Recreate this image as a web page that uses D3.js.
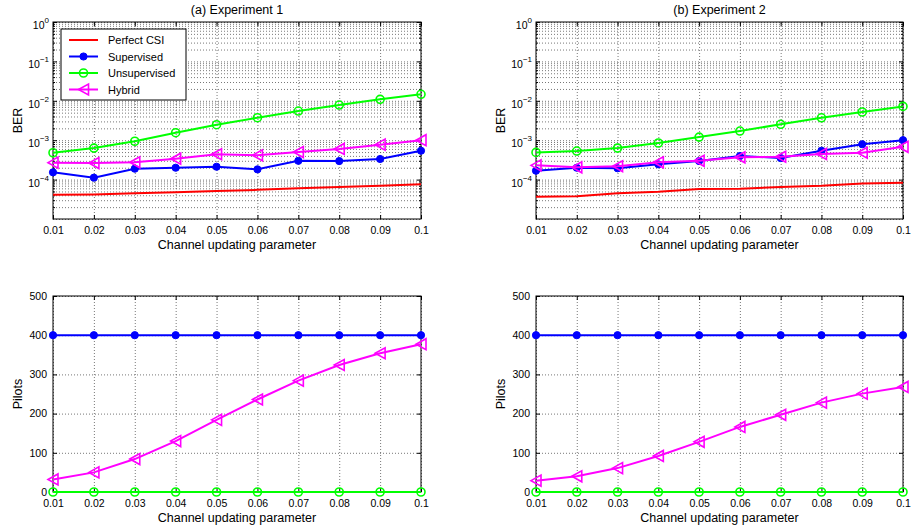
<!DOCTYPE html>
<html>
<head>
<meta charset="utf-8">
<script src="https://cdn.jsdelivr.net/npm/d3@7"></script>
<style>
  body { margin: 0; background: #fff; }
  text { font-family: "Liberation Sans", Arial, sans-serif; fill: #000; }
</style>
</head>
<body>
<svg id="drawing_region"></svg>
<script>
var width = 912;
var height = 532;

// data
const xValues = [0.01, 0.02, 0.03, 0.04, 0.05, 0.06, 0.07, 0.08, 0.09, 0.1];
const xTickLabels = ['0.01', '0.02', '0.03', '0.04', '0.05', '0.06', '0.07', '0.08', '0.09', '0.1'];
const seriesNames = ['Perfect CSI', 'Supervised', 'Unsupervised', 'Hybrid'];
const berTickExponents = [0, -1, -2, -3, -4];
const pilotTicks = [0, 100, 200, 300, 400, 500];
const panelTitles = ['(a) Experiment 1', '(b) Experiment 2'];

const berExp1Perfect = [4.1e-5, 4.2e-5, 4.5e-5, 4.8e-5, 5.1e-5, 5.5e-5, 6.0e-5, 6.5e-5, 7.0e-5, 7.6e-5];
const berExp1Supervised = [1.53e-4, 1.12e-4, 1.89e-4, 2.0e-4, 2.12e-4, 1.82e-4, 3.0e-4, 2.96e-4, 3.33e-4, 5.4e-4];
const berExp1Unsupervised = [4.8e-4, 6.3e-4, 9.4e-4, 1.55e-3, 2.47e-3, 3.72e-3, 5.5e-3, 7.8e-3, 1.09e-2, 1.46e-2];
const berExp1Hybrid = [2.69e-4, 2.63e-4, 2.75e-4, 3.39e-4, 4.4e-4, 4.14e-4, 5.0e-4, 6.0e-4, 7.7e-4, 1.0e-3];

const berExp2Perfect = [3.68e-5, 3.77e-5, 4.5e-5, 4.9e-5, 5.8e-5, 5.9e-5, 6.5e-5, 7.0e-5, 8.0e-5, 8.3e-5];
const berExp2Supervised = [1.68e-4, 2.0e-4, 1.94e-4, 2.44e-4, 2.96e-4, 3.97e-4, 3.53e-4, 5.4e-4, 7.9e-4, 1.0e-3];
const berExp2Unsupervised = [4.9e-4, 5.3e-4, 6.3e-4, 8.5e-4, 1.2e-3, 1.71e-3, 2.53e-3, 3.7e-3, 5.2e-3, 7.2e-3];
const berExp2Hybrid = [2.3e-4, 2.05e-4, 2.18e-4, 2.75e-4, 3.0e-4, 3.68e-4, 3.8e-4, 4.47e-4, 4.8e-4, 6.8e-4];

const pilotsExp1Supervised = [400, 400, 400, 400, 400, 400, 400, 400, 400, 400];
const pilotsExp1Unsupervised = [0, 0, 0, 0, 0, 0, 0, 0, 0, 0];
const pilotsExp1Hybrid = [32, 50, 84, 130, 184, 236, 284, 324, 354, 377];

const pilotsExp2Supervised = [400, 400, 400, 400, 400, 400, 400, 400, 400, 400];
const pilotsExp2Unsupervised = [0, 0, 0, 0, 0, 0, 0, 0, 0, 0];
const pilotsExp2Hybrid = [29, 40, 61, 92, 128, 166, 197, 228, 251, 268];

const colors = {'Perfect CSI': '#ff0000', 'Supervised': '#0000ff', 'Unsupervised': '#00ff00', 'Hybrid': '#ff00ff'};
const markers = {'Perfect CSI': 'none', 'Supervised': 'dot', 'Unsupervised': 'circle', 'Hybrid': 'triangle'};

var svg = d3.select('#drawing_region')
      .attr('width', width)
      .attr('height', height);

const panels = [
  {left: 53, top: 22, w: 368, h: 197, type: 'ber', title: panelTitles[0], legend: true,
   series: [berExp1Perfect, berExp1Supervised, berExp1Unsupervised, berExp1Hybrid]},
  {left: 536, top: 22, w: 367, h: 197, type: 'ber', title: panelTitles[1], legend: false,
   series: [berExp2Perfect, berExp2Supervised, berExp2Unsupervised, berExp2Hybrid]},
  {left: 53, top: 296, w: 368, h: 196, type: 'pilots', legend: false,
   series: [null, pilotsExp1Supervised, pilotsExp1Unsupervised, pilotsExp1Hybrid]},
  {left: 536, top: 296, w: 367, h: 196, type: 'pilots', legend: false,
   series: [null, pilotsExp2Supervised, pilotsExp2Unsupervised, pilotsExp2Hybrid]}
];

function drawMarker(sel, kind, color) {
  if (kind === 'dot') {
    sel.append('circle').attr('r', 3.6).attr('fill', color).attr('stroke', color);
  } else if (kind === 'circle') {
    sel.append('circle').attr('r', 4).attr('fill', 'none').attr('stroke', color).attr('stroke-width', 1.6);
  } else if (kind === 'triangle') {
    sel.append('path').attr('d', 'M-5,0L5,-5.5L5,5.5Z')
      .attr('fill', 'none').attr('stroke', color).attr('stroke-width', 1.6);
  }
}

panels.forEach(p => {
  const chart = svg.append('g').attr('transform', `translate(${p.left}, ${p.top})`);

  const xscale = d3.scaleLinear().domain([0.01, 0.1]).range([0, p.w]);
  let yscale;
  if (p.type === 'ber') {
    yscale = d3.scaleLog().domain([1e-5, 1]).range([p.h, 0]);
  } else {
    yscale = d3.scaleLinear().domain([0, 500]).range([p.h, 0]);
  }

  // grid
  const gridStyle = g => g.selectAll('line')
      .attr('stroke', '#555').attr('stroke-width', 0.8).attr('stroke-dasharray', '1,2');

  const yGridTicks = p.type === 'ber' ? yscale.ticks() : pilotTicks;
  chart.append('g')
    .call(d3.axisLeft(yscale).tickValues(yGridTicks).tickSize(-p.w).tickFormat(''))
    .call(g => g.select('.domain').remove())
    .call(gridStyle);
  chart.append('g')
    .attr('transform', `translate(0, ${p.h})`)
    .call(d3.axisBottom(xscale).tickValues(xValues).tickSize(-p.h).tickFormat(''))
    .call(g => g.select('.domain').remove())
    .call(gridStyle);

  // x axis
  chart.append('g')
    .attr('transform', `translate(0, ${p.h})`)
    .call(d3.axisBottom(xscale).tickValues(xValues).tickSize(-4).tickPadding(8)
      .tickFormat((d, i) => xTickLabels[i]))
    .call(g => g.select('.domain').remove())
    .call(g => g.selectAll('text').attr('font-size', 10.5).attr('font-family', '"Liberation Sans", Arial, sans-serif'));
  chart.append('g')
    .call(d3.axisTop(xscale).tickValues(xValues).tickSize(-4).tickFormat(''))
    .call(g => g.select('.domain').remove());

  // y axis
  if (p.type === 'ber') {
    const majors = berTickExponents.map(e => Math.pow(10, e));
    const minors = yscale.ticks().filter(v => Math.abs(Math.log10(v) - Math.round(Math.log10(v))) > 1e-6);
    [[d3.axisLeft, 0], [d3.axisRight, p.w]].forEach(([ax, tx]) => {
      chart.append('g').attr('transform', `translate(${tx},0)`)
        .call(ax(yscale).tickValues(minors).tickSize(-2).tickFormat(''))
        .call(g => g.select('.domain').remove());
      chart.append('g').attr('transform', `translate(${tx},0)`)
        .call(ax(yscale).tickValues(majors).tickSize(-4).tickFormat(''))
        .call(g => g.select('.domain').remove());
    });
    const labels = chart.append('g').selectAll('text')
      .data(berTickExponents).enter().append('text')
      .attr('x', -4)
      .attr('y', d => yscale(Math.pow(10, d)) + 7)
      .attr('text-anchor', 'end')
      .attr('font-size', 10.5);
    labels.append('tspan').text('10');
    labels.append('tspan').attr('dy', -6).attr('font-size', 8).text(d => d === 0 ? '0' : '\u2212' + Math.abs(d));
  } else {
    chart.append('g')
      .call(d3.axisLeft(yscale).tickValues(pilotTicks).tickSize(-4).tickPadding(6))
      .call(g => g.select('.domain').remove())
      .call(g => g.selectAll('text').attr('font-size', 10.5).attr('font-family', '"Liberation Sans", Arial, sans-serif'));
    chart.append('g').attr('transform', `translate(${p.w},0)`)
      .call(d3.axisRight(yscale).tickValues(pilotTicks).tickSize(-4).tickFormat(''))
      .call(g => g.select('.domain').remove());
  }

  // box
  chart.append('rect')
    .attr('width', p.w).attr('height', p.h)
    .attr('fill', 'none').attr('stroke', '#000').attr('stroke-width', 1);

  // series
  const line = d3.line()
    .x((d, i) => xscale(xValues[i]))
    .y(d => yscale(d));

  p.series.forEach((vals, si) => {
    if (!vals) return;
    const name = seriesNames[si];
    const color = colors[name];
    chart.append('path')
      .attr('d', line(vals))
      .attr('stroke', color)
      .attr('stroke-width', 2)
      .attr('fill', 'none');
    chart.append('g').selectAll('g')
      .data(vals).enter().append('g')
      .attr('transform', (d, i) => `translate(${xscale(xValues[i])}, ${yscale(d)})`)
      .each(function () { drawMarker(d3.select(this), markers[name], color); });
  });

  // labels
  chart.append('text')
    .attr('x', p.w / 2).attr('y', p.h + 30)
    .attr('text-anchor', 'middle').attr('font-size', 12.5)
    .text('Channel updating parameter');
  chart.append('text')
    .attr('transform', `translate(${-31}, ${p.h / 2}) rotate(-90)`)
    .attr('text-anchor', 'middle').attr('font-size', 12.5)
    .text(p.type === 'ber' ? 'BER' : 'Pilots');
  if (p.title) {
    chart.append('text')
      .attr('x', p.w / 2).attr('y', -8)
      .attr('text-anchor', 'middle').attr('font-size', 12.5)
      .text(p.title);
  }

  // legend
  if (p.legend) {
    const lg = chart.append('g').attr('transform', 'translate(8, 7)');
    lg.append('rect').attr('width', 125).attr('height', 71)
      .attr('fill', '#fff').attr('stroke', '#000').attr('stroke-width', 1);
    seriesNames.forEach((name, i) => {
      const row = lg.append('g').attr('transform', `translate(0, ${11 + i * 16.5})`);
      row.append('line').attr('x1', 8).attr('x2', 37)
        .attr('stroke', colors[name]).attr('stroke-width', 2);
      drawMarker(row.append('g').attr('transform', 'translate(22.5,0)'), markers[name], colors[name]);
      row.append('text').attr('x', 47).attr('y', 4).attr('font-size', 11).text(name);
    });
  }
});
</script>
</body>
</html>
